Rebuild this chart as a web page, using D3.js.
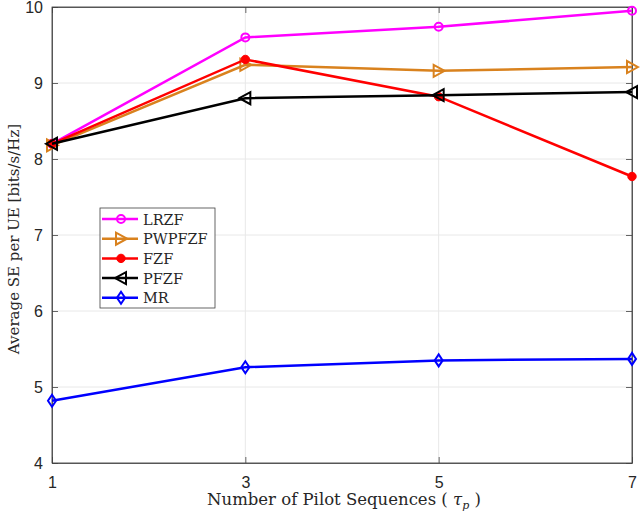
<!DOCTYPE html>
<html>
<head>
<meta charset="utf-8">
<title>Average SE per UE</title>
<style>
  body { margin: 0; background: #fff; }
  .tick text { font-family: "Liberation Sans", Arial, sans-serif; font-size: 16px; fill: #262626; }
  .lab { font-family: "DejaVu Serif", "Liberation Serif", serif; fill: #262626; }
</style>
<script src="https://cdnjs.cloudflare.com/ajax/libs/d3/7.8.5/d3.min.js"></script>
</head>
<body>
<script>
const pilots = [1, 3, 5, 7]
const lrzf = [8.2, 9.6, 9.74, 9.95]
const pwpfzf = [8.18, 9.24, 9.16, 9.21]
const fzf = [8.2, 9.31, 8.82, 7.77]
const pfzf = [8.2, 8.8, 8.84, 8.88]
const mr = [4.82, 5.26, 5.35, 5.37]
const yTicks = [4, 5, 6, 7, 8, 9, 10]

const series = [
  {name: "LRZF", values: lrzf, color: "#ff00ff", marker: "circle"},
  {name: "PWPFZF", values: pwpfzf, color: "#d9821e", marker: "right"},
  {name: "FZF", values: fzf, color: "#ff0000", marker: "dot"},
  {name: "PFZF", values: pfzf, color: "#000000", marker: "left"},
  {name: "MR", values: mr, color: "#0000ff", marker: "diamond"}
]

const width = 640, height = 515
const m = {left: 52, right: 8, top: 7, bottom: 52}

const svg = d3.select("body").append("svg")
  .attr("width", width).attr("height", height)

const x = d3.scaleLinear().domain([1, 7]).range([m.left, width - m.right])
const y = d3.scaleLinear().domain([4, 10]).range([height - m.bottom, m.top])

// grid
svg.append("g").selectAll("line").data(pilots).join("line")
  .attr("x1", d => x(d)).attr("x2", d => x(d))
  .attr("y1", y(4)).attr("y2", y(10))
  .attr("stroke", "#e8e8e8")
svg.append("g").selectAll("line").data(yTicks).join("line")
  .attr("x1", x(1)).attr("x2", x(7))
  .attr("y1", d => y(d)).attr("y2", d => y(d))
  .attr("stroke", "#e8e8e8")

// box
svg.append("rect")
  .attr("x", x(1)).attr("y", y(10))
  .attr("width", x(7) - x(1)).attr("height", y(4) - y(10))
  .attr("fill", "none").attr("stroke", "#404040").attr("stroke-width", 0.8)

svg.append("g").attr("transform", `translate(0,${y(4)})`)
  .call(d3.axisBottom(x).tickValues(pilots).tickFormat(d3.format("d")).tickSizeInner(-6).tickSizeOuter(0).tickPadding(14))
svg.append("g").attr("transform", `translate(${x(1)},0)`)
  .call(d3.axisLeft(y).tickValues(yTicks).tickFormat(d3.format("d")).tickSizeInner(-6).tickSizeOuter(0).tickPadding(9))
// top/right ticks
svg.append("g").attr("transform", `translate(0,${y(10)})`)
  .call(d3.axisTop(x).tickValues(pilots).tickSizeInner(-6).tickSizeOuter(0).tickFormat(""))
svg.append("g").attr("transform", `translate(${x(7)},0)`)
  .call(d3.axisRight(y).tickValues(yTicks).tickSizeInner(-6).tickSizeOuter(0).tickFormat(""))
svg.selectAll(".domain").attr("stroke", "#404040").attr("stroke-width", 0.8)
svg.selectAll(".tick line").attr("stroke", "#404040").attr("stroke-width", 0.8)

function drawMarker(g, type, color, cx, cy) {
  if (type === "circle") {
    g.append("circle").attr("cx", cx).attr("cy", cy).attr("r", 4)
      .attr("fill", "none").attr("stroke", color).attr("stroke-width", 2)
  } else if (type === "dot") {
    g.append("circle").attr("cx", cx).attr("cy", cy).attr("r", 4.2)
      .attr("fill", color).attr("stroke", color)
  } else if (type === "right") {
    g.append("path").attr("d", `M${cx + 6},${cy} L${cx - 5},${cy - 6} L${cx - 5},${cy + 6} Z`)
      .attr("fill", "none").attr("stroke", color).attr("stroke-width", 2)
  } else if (type === "left") {
    g.append("path").attr("d", `M${cx - 6},${cy} L${cx + 5},${cy - 6} L${cx + 5},${cy + 6} Z`)
      .attr("fill", "none").attr("stroke", color).attr("stroke-width", 2)
  } else if (type === "diamond") {
    g.append("path").attr("d", `M${cx},${cy - 6} L${cx + 4},${cy} L${cx},${cy + 6} L${cx - 4},${cy} Z`)
      .attr("fill", "none").attr("stroke", color).attr("stroke-width", 2)
  }
}

const line = d3.line().x((d, i) => x(pilots[i])).y(d => y(d))

series.forEach(s => {
  const g = svg.append("g")
  g.append("path").attr("d", line(s.values))
    .attr("fill", "none").attr("stroke", s.color).attr("stroke-width", 2.5)
  s.values.forEach((v, i) => drawMarker(g, s.marker, s.color, x(pilots[i]), y(v)))
})

// legend
const lg = svg.append("g").attr("transform", "translate(100,208)")
lg.append("rect").attr("width", 115).attr("height", 100)
  .attr("fill", "#fff").attr("stroke", "#404040").attr("stroke-width", 0.8)
series.forEach((s, i) => {
  const ly = 11 + i * 19.7
  lg.append("line").attr("x1", 2).attr("x2", 38).attr("y1", ly).attr("y2", ly)
    .attr("stroke", s.color).attr("stroke-width", 2.5)
  drawMarker(lg, s.marker, s.color, 21, ly)
  lg.append("text").attr("class", "lab").attr("font-size", "14.5px")
    .attr("x", 43).attr("y", ly + 5.5).text(s.name)
})

// axis labels
svg.append("text").attr("class", "lab").attr("font-size", "15px")
  .attr("transform", `translate(19,239) rotate(-90)`)
  .attr("text-anchor", "middle").text("Average SE per UE [bits/s/Hz]")
const xl = svg.append("text").attr("class", "lab").attr("font-size", "16.5px")
  .attr("x", 344).attr("y", 505).attr("text-anchor", "middle")
xl.append("tspan").text("Number of Pilot Sequences ( ")
xl.append("tspan").attr("font-style", "italic").text(" τ")
xl.append("tspan").attr("font-style", "italic").attr("font-size", "11px").attr("dy", 4).text("p")
xl.append("tspan").attr("dy", -4).text("  )")
</script>
</body>
</html>
